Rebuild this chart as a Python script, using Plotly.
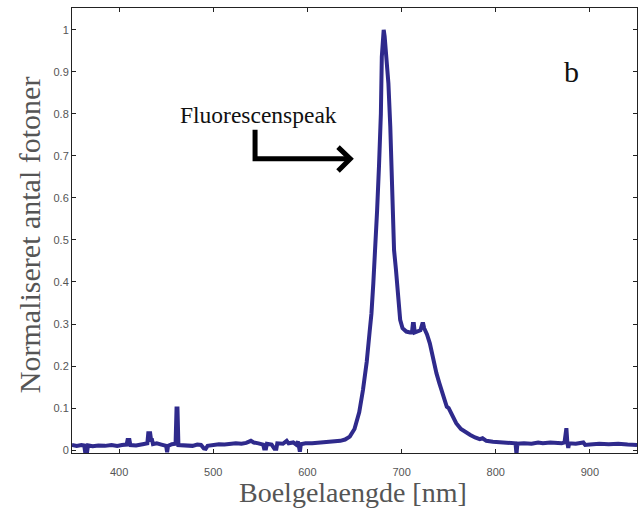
import plotly.graph_objects as go

wavelength = [350, 355, 360, 363, 364, 366, 367, 372, 378, 385, 392, 398, 403, 408, 409, 411, 412, 418, 425, 430,
              431, 433, 434, 435, 436, 440, 445, 450, 451, 452, 456, 460, 461, 462, 463, 468, 473, 478, 483, 487,
              490, 492, 494, 500, 506, 512, 518, 524, 530, 535, 540, 543, 548, 553, 554, 556, 557, 562, 565, 567,
              568, 574, 578, 580, 585, 588, 590, 592, 593, 598, 605, 612, 620, 628, 635, 640, 645, 650, 655, 659,
              663, 666, 668, 670, 672, 674, 676, 678, 679, 680, 681, 682, 684, 686, 688, 689.5, 691, 692, 694, 695,
              697, 698.5, 701, 705, 709, 711, 712, 713, 714, 717, 720, 722, 723, 724, 727, 730, 733, 737, 740, 744,
              748, 750, 753, 758, 763, 768, 773, 778, 783, 786, 790, 797, 805, 812, 818, 821, 822, 823, 830, 838,
              845, 850, 858, 864, 870, 873, 874, 875, 876, 877, 878, 885, 893, 895, 900, 910, 920, 930, 940, 950]
photons = [0.012, 0.010, 0.012, 0.011, -0.005, -0.005, 0.011, 0.009, 0.011, 0.010, 0.012, 0.010, 0.012, 0.013, 0.024, 0.024, 0.012, 0.011, 0.014, 0.016,
           0.040, 0.040, 0.024, 0.024, 0.014, 0.016, 0.013, 0.010, -0.005, 0.010, 0.014, 0.015, 0.099, 0.099, 0.012, 0.011, 0.012, 0.010, 0.013, 0.012,
           0.004, 0.003, 0.010, 0.013, 0.014, 0.013, 0.015, 0.016, 0.015, 0.017, 0.022, 0.018, 0.016, 0.013, 0.004, 0.004, 0.015, 0.013, 0.003, 0.003,
           0.016, 0.015, 0.022, 0.016, 0.018, 0.013, 0.020, -0.004, 0.014, 0.016, 0.016, 0.017, 0.018, 0.019, 0.022, 0.025, 0.032, 0.050, 0.090, 0.143,
           0.210, 0.280, 0.325, 0.397, 0.470, 0.570, 0.675, 0.800, 0.936, 0.990, 1.000, 0.985, 0.940, 0.873, 0.770, 0.675, 0.570, 0.476, 0.430, 0.397,
           0.340, 0.310, 0.290, 0.282, 0.280, 0.280, 0.300, 0.300, 0.280, 0.283, 0.285, 0.300, 0.300, 0.290, 0.275, 0.254, 0.220, 0.183, 0.160, 0.130,
           0.103, 0.100, 0.085, 0.064, 0.050, 0.042, 0.036, 0.030, 0.026, 0.028, 0.022, 0.020, 0.018, 0.017, 0.016, 0.016, -0.010, 0.015, 0.016, 0.015,
           0.018, 0.016, 0.018, 0.016, 0.016, 0.018, 0.052, 0.052, 0.018, 0.005, 0.016, 0.015, 0.018, 0.012, 0.013, 0.015, 0.014, 0.015, 0.013, 0.012]

x_ticks = [400, 500, 600, 700, 800, 900]
y_ticks = [0, 0.1, 0.2, 0.3, 0.4, 0.5, 0.6, 0.7, 0.8, 0.9, 1]
y_tick_labels = ["0", "0.1", "0.2", "0.3", "0.4", "0.5", "0.6", "0.7", "0.8", "0.9", "1"]

x_title = "Boelgelaengde [nm]"
y_title = "Normaliseret antal fotoner"
panel_label = "b"
peak_label = "Fluorescenspeak"

fig = go.Figure()
fig.add_trace(go.Scatter(x=wavelength, y=photons, mode="lines",
                         line=dict(color="#2f2a8c", width=4), showlegend=False,
                         cliponaxis=True))

axis_common = dict(showline=True, linecolor="#222", linewidth=1, mirror="ticks",
                   ticks="inside", ticklen=4, tickcolor="#222", showgrid=False, zeroline=False,
                   tickfont=dict(family="Arial, Liberation Sans", size=11, color="#555"))

fig.update_xaxes(range=[350, 950], tickvals=x_ticks, ticklabelstandoff=9, **axis_common)
fig.update_yaxes(range=[-0.007, 1.052], tickvals=y_ticks, ticktext=y_tick_labels, **axis_common)

serif = "Liberation Serif, Times New Roman, serif"
fig.add_annotation(text=x_title, xref="paper", yref="paper", x=0.497, y=-0.088,
                   showarrow=False, xanchor="center", yanchor="middle",
                   font=dict(family=serif, size=28, color="#555"))
fig.add_annotation(text=y_title, xref="paper", yref="paper", x=-0.074, y=0.49,
                   showarrow=False, xanchor="center", yanchor="middle", textangle=-90,
                   font=dict(family=serif, size=30, color="#555"))
fig.add_annotation(text=panel_label, x=880, y=0.9, showarrow=False,
                   xanchor="center", yanchor="middle",
                   font=dict(family=serif, size=30, color="#111"))
fig.add_annotation(text=peak_label, x=548, y=0.797, showarrow=False,
                   xanchor="center", yanchor="middle",
                   font=dict(family=serif, size=23.5, color="#111"))

fig.add_shape(type="path", xref="x", yref="y",
              path="M 544.4,0.762 L 544.4,0.693 L 645,0.693",
              line=dict(color="black", width=5))
fig.add_shape(type="path", xref="x", yref="y",
              path="M 632.5,0.721 L 645.5,0.693 L 632.5,0.664",
              line=dict(color="black", width=5))

fig.update_layout(width=641, height=511, margin=dict(l=72, r=4, t=8, b=58),
                  plot_bgcolor="white", paper_bgcolor="white")

fig.write_html("out.html", config={"displayModeBar": False},
               post_script="document.body.style.margin='0';")
